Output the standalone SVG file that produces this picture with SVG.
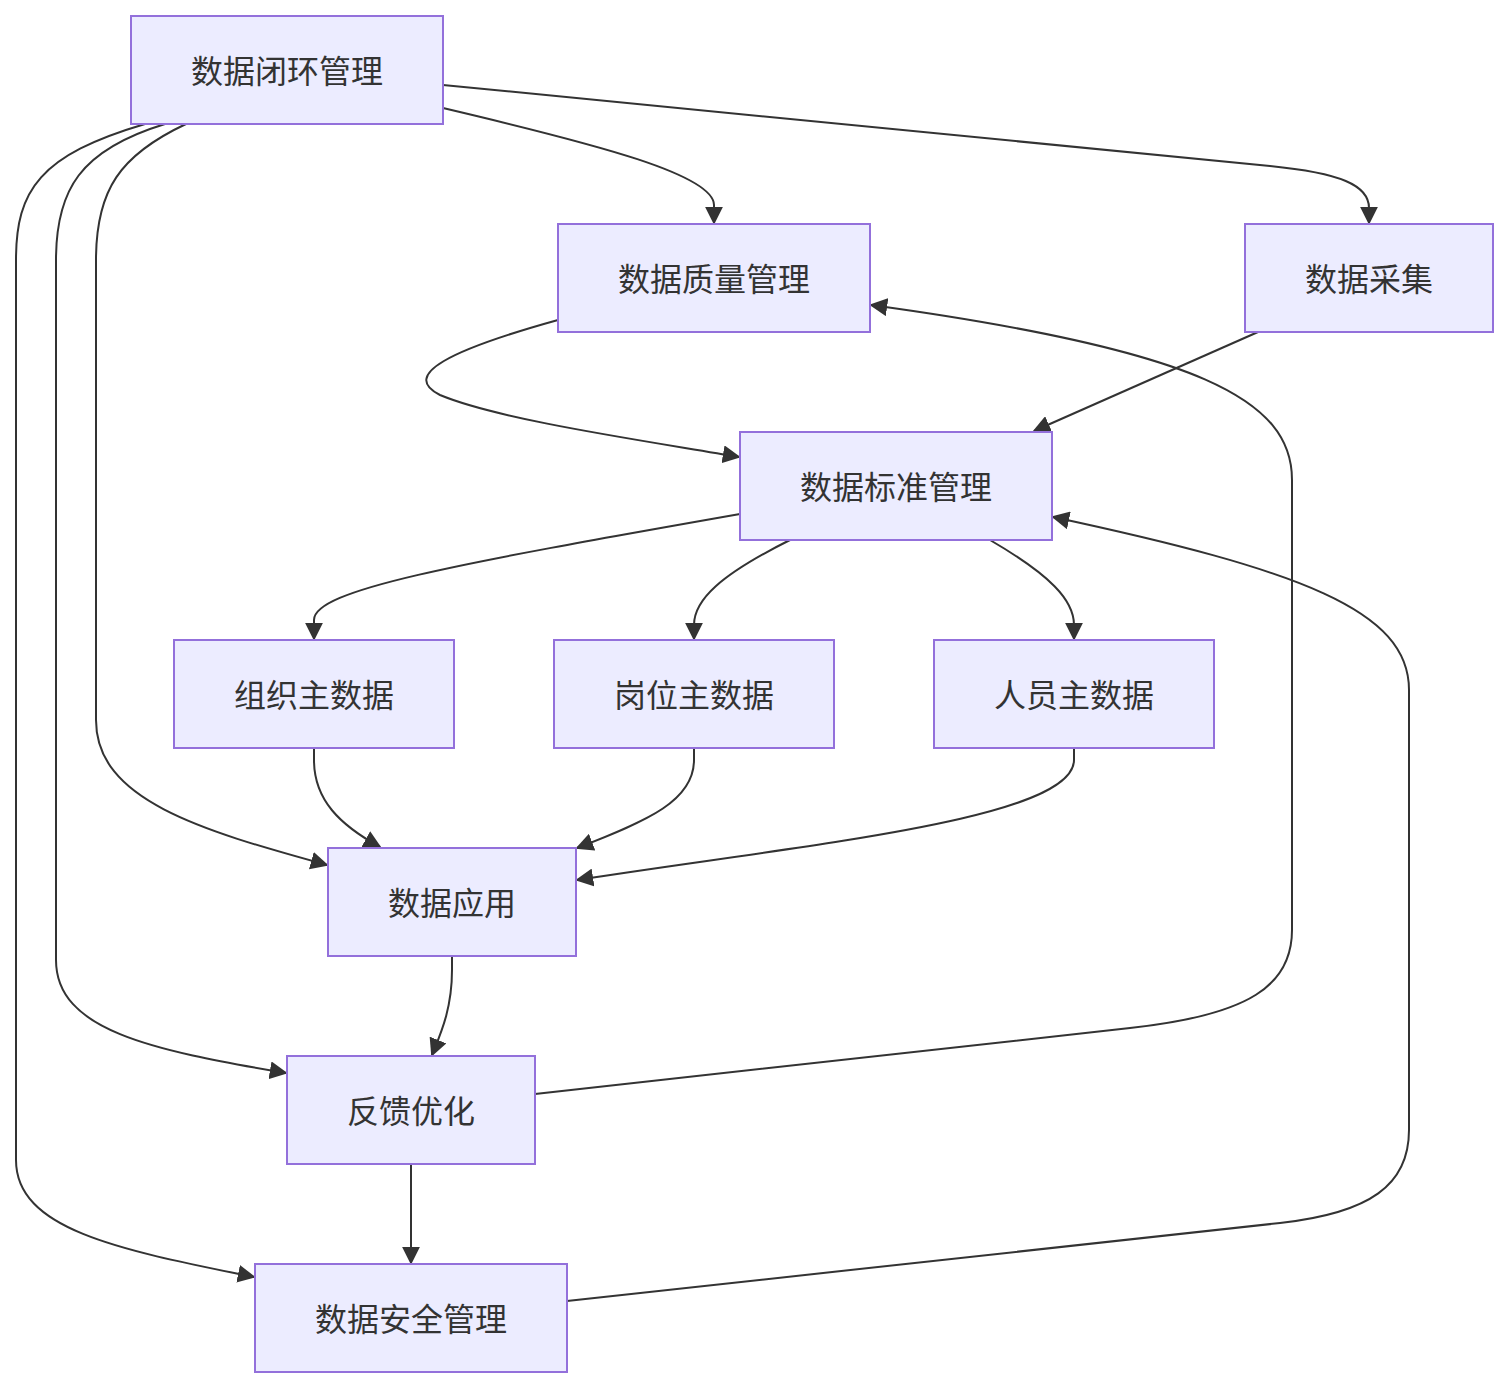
<svg xmlns="http://www.w3.org/2000/svg" width="1509" height="1388" viewBox="0 0 1509 1388">
<style>
.node rect{fill:#ECECFF;stroke:#9370DB;stroke-width:2px}
.node text{font-family:"Noto Sans CJK SC","Noto Sans",sans-serif;font-size:32px;fill:#333;text-anchor:middle;dominant-baseline:central}
.edges path{fill:none;stroke:#333;stroke-width:2px;marker-end:url(#arrow)}
</style>
<defs>
<marker id="arrow" viewBox="0 0 10 10" refX="9" refY="5" markerWidth="18" markerHeight="18" markerUnits="userSpaceOnUse" orient="auto">
<path d="M0,0 L10,5 L0,10 z" fill="#333"/>
</marker>
</defs>
<rect width="1509" height="1388" fill="#fff"/>
<g class="edges">
<path d="M443,108 C600,145 714,175 714,205 L714,223"/>
<path d="M443,85 L1270,166 C1340,173 1369,185 1369,208 L1369,223"/>
<path d="M186,124 C120,155 96,190 96,260 L96,720 C96,800 200,830 327,865"/>
<path d="M165,124 C80,150 56,190 56,260 L56,960 C56,1030 150,1050 286,1073"/>
<path d="M145,124 C40,155 16,190 16,260 L16,1160 C16,1230 120,1250 254,1277"/>
<path d="M558,320 C450,350 400,375 440,395 C500,420 640,440 739,457"/>
<path d="M1258,332 L1034,431"/>
<path d="M740,514 C450,565 314,590 314,620 L314,639"/>
<path d="M790,540 C720,575 694,600 694,625 L694,639"/>
<path d="M990,540 C1050,575 1074,600 1074,625 L1074,639"/>
<path d="M314,748 L314,760 C314,800 340,825 380,847"/>
<path d="M694,748 L694,760 C694,800 650,820 577,848"/>
<path d="M1074,748 L1074,760 C1074,820 800,845 577,880"/>
<path d="M452,956 L452,970 C452,1010 440,1035 432,1055"/>
<path d="M411,1164 L411,1263"/>
<path d="M535,1094 L1130,1028 C1250,1015 1292,985 1292,930 L1292,480 C1292,400 1200,350 871,305"/>
<path d="M567,1301 L1280,1223 C1370,1213 1409,1185 1409,1130 L1409,690 C1409,610 1300,570 1053,517"/>
</g>
<g id="n-loop" class="node"><rect x="131" y="16" width="312" height="108"/><text x="287" y="69">数据闭环管理</text></g>
<g id="n-quality" class="node"><rect x="558" y="224" width="312" height="108"/><text x="714" y="277">数据质量管理</text></g>
<g id="n-collect" class="node"><rect x="1245" y="224" width="248" height="108"/><text x="1369" y="277">数据采集</text></g>
<g id="n-standard" class="node"><rect x="740" y="432" width="312" height="108"/><text x="896" y="485">数据标准管理</text></g>
<g id="n-org" class="node"><rect x="174" y="640" width="280" height="108"/><text x="314" y="693">组织主数据</text></g>
<g id="n-post" class="node"><rect x="554" y="640" width="280" height="108"/><text x="694" y="693">岗位主数据</text></g>
<g id="n-staff" class="node"><rect x="934" y="640" width="280" height="108"/><text x="1074" y="693">人员主数据</text></g>
<g id="n-app" class="node"><rect x="328" y="848" width="248" height="108"/><text x="452" y="901">数据应用</text></g>
<g id="n-feedback" class="node"><rect x="287" y="1056" width="248" height="108"/><text x="411" y="1109">反馈优化</text></g>
<g id="n-security" class="node"><rect x="255" y="1264" width="312" height="108"/><text x="411" y="1317">数据安全管理</text></g>
</svg>
